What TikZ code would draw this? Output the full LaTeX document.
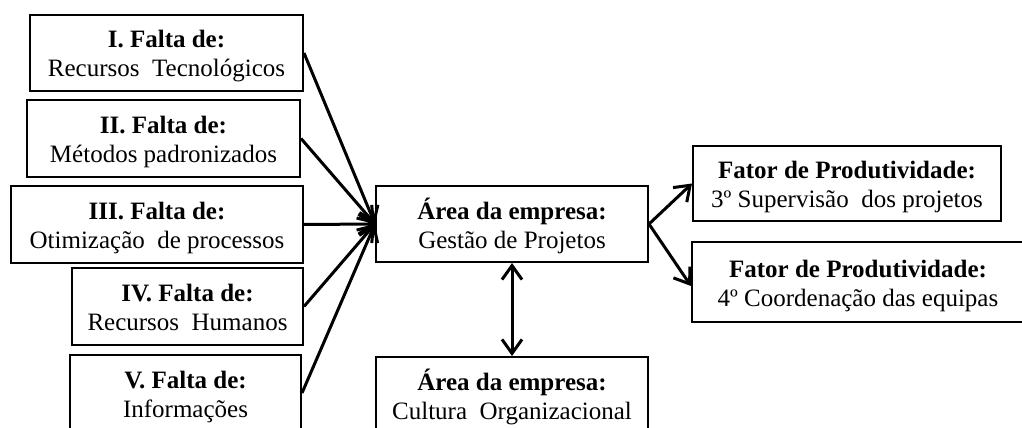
\documentclass[tikz,border=0pt]{standalone}
\usepackage{fontspec}
\setmainfont{Liberation Serif}
\usetikzlibrary{arrows.meta}

% two-line box text with fixed line heights so every box sets its lines alike
\newcommand{\boxtext}[2]{\rule{0pt}{26pt}\textbf{#1}\\#2\rule[-7pt]{0pt}{7pt}}

\begin{document}
\begin{tikzpicture}[x=1pt, y=-1pt,
  box/.style={draw=black, line width=2pt, fill=white, align=center, inner sep=0pt,
    font=\fontsize{25}{29}\selectfont},
  link/.style={line width=3pt, -{Straight Barb[length=14pt, width=20pt, line width=3pt]}},
  both/.style={line width=3pt, {Straight Barb[length=14pt, width=20pt, line width=3pt]}-{Straight Barb[length=14pt, width=20pt, line width=3pt]}}
]
\useasboundingbox (0,0) rectangle (1022,428);

% causes on the left
\node[box, minimum width=273pt, minimum height=76pt] (c1) at (166.5,53)
  {\boxtext{I. Falta de:}{Recursos\ \ Tecnológicos}};
\node[box, minimum width=273pt, minimum height=77pt] (c2) at (163.5,138.5)
  {\boxtext{II. Falta de:}{Métodos padronizados}};
\node[box, minimum width=292pt, minimum height=77pt] (c3) at (157,224.5)
  {\boxtext{III. Falta de:}{Otimização\ \ de processos}};
\node[box, minimum width=231pt, minimum height=77pt] (c4) at (187.5,306.5)
  {\boxtext{IV. Falta de:}{Recursos\ \ Humanos}};
\node[box, minimum width=231pt, minimum height=76pt] (c5) at (185.5,393)
  {\boxtext{V. Falta de:}{Informações}};

% company areas
\node[box, minimum width=272pt, minimum height=76pt] (gp) at (512,224)
  {\boxtext{Área da empresa:}{Gestão de Projetos}};
\node[box, minimum width=272pt, minimum height=76pt] (co) at (512,395)
  {\boxtext{Área da empresa:}{Cultura\ \ Organizacional}};

% productivity factors
\node[box, minimum width=308pt, minimum height=75pt] (f1) at (847,183.5)
  {\boxtext{Fator de Produtividade:}{3º Supervisão\ \ dos projetos}};
\node[box, minimum width=332pt, minimum height=80pt] (f2) at (858,282)
  {\boxtext{Fator de Produtividade:}{4º Coordenação das equipas}};

% connectors
\foreach \c in {c1,c2,c3,c4,c5}
  \draw[link] (\c.east) -- (gp.west);
\draw[link] (gp.east) -- (f1.west);
\draw[link] (gp.east) -- ([yshift=-4pt]f2.west);
\draw[both] (gp.south) -- (co.north);
\end{tikzpicture}
\end{document}
